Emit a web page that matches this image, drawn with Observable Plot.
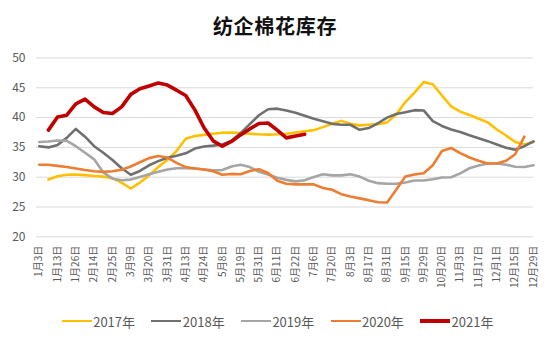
<!DOCTYPE html>
<html>
<head>
<meta charset="utf-8">
<script src="https://cdn.jsdelivr.net/npm/d3@7"></script>
<script src="https://cdn.jsdelivr.net/npm/@observablehq/plot@0.6"></script>
<style>
  html, body { margin: 0; padding: 0; background: #fff; }
  #wrap { position: relative; width: 550px; height: 343px; overflow: hidden; font-family: 'Noto Sans CJK SC', 'Noto Sans', sans-serif; }
  #title { position: absolute; left: 0; width: 550px; top: 15px; line-height: 21px; text-align: center; font-size: 20px; font-weight: bold; color: #111; letter-spacing: 0.7px; }
  #chart { position: absolute; left: 0; top: 45px; }
  #legend { position: absolute; left: 0; top: 311px; width: 550px; height: 20px; }
  .item { position: absolute; top: 0; height: 20px; display: flex; align-items: center; font-size: 13px; color: #595959; white-space: nowrap; }
  .swatch { width: 30px; margin-right: 1.5px; }
</style>
</head>
<body>
<div id="wrap">
  <div id="title">纺企棉花库存</div>
  <div id="chart"></div>
  <div id="legend"></div>
</div>
<script>
const title = "纺企棉花库存";
const labels = ["1月3日","1月13日","1月26日","2月14日","2月25日","3月9日","3月20日","3月31日","4月13日","4月24日","5月8日","5月19日","5月31日","6月11日","6月22日","7月6日","7月20日","8月3日","8月17日","8月31日","9月15日","9月29日","10月20日","11月3日","11月17日","12月1日","12月15日","12月29日"];
const yTicks = [20, 25, 30, 35, 40, 45, 50];
const seriesNames = ["2017年", "2018年", "2019年", "2020年", "2021年"];
const seriesColors = ["#FFC000", "#707070", "#A5A5A5", "#ED7D31", "#C00000"];
const seriesWidths = [2.6, 2.6, 2.6, 2.6, 3.6];

// values sampled twice per labelled date (index i sits at label position i/2)
const v2017 = [null, 29.6, 30.15, 30.4, 30.45, 30.35, 30.2, 30.1, 29.85, 29.1, 28.1, 29.1, 30.3, 31.7, 32.9, 34.4, 36.45, 36.9, 37.1, 37.3, 37.45, 37.5, 37.4, 37.3, 37.2, 37.15, 37.2, 37.3, 37.5, 37.7, 37.9, 38.4, 38.95, 39.45, 38.95, 38.7, 38.8, 38.9, 39.2, 40.5, 42.6, 44.2, 45.95, 45.6, 43.7, 41.9, 41.0, 40.45, 39.8, 39.2, 38.0, 37.0, 35.9, 35.5, 35.9];
const v2018 = [35.2, 35.0, 35.4, 36.6, 38.1, 36.8, 35.2, 34.1, 32.9, 31.5, 30.4, 31.05, 32.0, 32.7, 33.25, 33.6, 34.0, 34.8, 35.15, 35.3, 35.5, 36.1, 37.4, 38.9, 40.4, 41.4, 41.5, 41.2, 40.8, 40.3, 39.8, 39.4, 38.95, 38.8, 38.8, 37.95, 38.25, 39.05, 40.0, 40.6, 40.9, 41.25, 41.2, 39.4, 38.6, 38.0, 37.6, 37.05, 36.55, 36.05, 35.5, 34.95, 34.6, 35.2, 36.0];
const v2019 = [35.9, 36.0, 36.15, 36.1, 35.2, 34.1, 33.0, 30.8, 29.75, 29.5, 29.6, 30.05, 30.5, 30.9, 31.3, 31.5, 31.5, 31.45, 31.3, 31.15, 31.2, 31.8, 32.1, 31.7, 30.9, 30.45, 29.9, 29.55, 29.3, 29.5, 30.05, 30.5, 30.3, 30.3, 30.5, 30.1, 29.4, 29.0, 28.9, 28.9, 29.1, 29.45, 29.45, 29.65, 29.95, 30.0, 30.65, 31.5, 31.95, 32.3, 32.3, 32.1, 31.75, 31.7, 32.0];
const v2020 = [32.1, 32.1, 31.9, 31.7, 31.45, 31.2, 31.0, 30.9, 31.0, 31.25, 31.8, 32.5, 33.2, 33.55, 33.3, 32.4, 31.7, 31.45, 31.3, 31.0, 30.4, 30.55, 30.5, 31.05, 31.35, 30.7, 29.4, 28.9, 28.8, 28.8, 28.8, 28.2, 27.9, 27.15, 26.75, 26.45, 26.15, 25.8, 25.75, 27.9, 30.1, 30.45, 30.65, 32.0, 34.4, 34.9, 34.05, 33.3, 32.75, 32.3, 32.3, 32.75, 33.85, 36.8, null];
const v2021 = [null, 37.9, 40.1, 40.4, 42.3, 43.1, 41.8, 40.85, 40.7, 41.8, 43.9, 44.85, 45.3, 45.8, 45.45, 44.6, 43.7, 41.3, 38.3, 36.1, 35.2, 36.0, 37.1, 38.1, 39.0, 39.1, 37.9, 36.6, 36.9, 37.2];
const seriesValues = [v2017, v2018, v2019, v2020, v2021];

const data = [];
seriesValues.forEach((vals, s) => vals.forEach((v, i) => {
  if (v != null) data.push({series: seriesNames[s], pos: i / 2, value: v});
}));

const lineMarks = seriesNames.map((name, s) =>
  Plot.line(data.filter(d => d.series === name), {
    x: "pos", y: "value", stroke: seriesColors[s], strokeWidth: seriesWidths[s],
    strokeLinejoin: "round", strokeLinecap: "round"
  })
);

const chart = Plot.plot({
  width: 550,
  height: 260,
  marginTop: 12.5,
  marginBottom: 68.7,
  marginLeft: 36,
  marginRight: 17,
  style: {fontFamily: "'Noto Sans CJK SC', 'Noto Sans', sans-serif", color: "#595959", background: "transparent"},
  x: {domain: [-0.15, 27]},
  y: {domain: [20, 50]},
  marks: [
    Plot.ruleY(yTicks, {stroke: "#D9D9D9", strokeWidth: 1}),
    Plot.axisY({ticks: yTicks, tickSize: 0, tickPadding: 11, fontSize: 12, label: null}),
    Plot.axisX({ticks: d3.range(labels.length), tickFormat: i => labels[i], tickRotate: -90, tickSize: 0, tickPadding: 9, fontSize: 10, label: null}),
    ...lineMarks
  ]
});
document.getElementById("chart").appendChild(chart);

const legend = document.getElementById("legend");
seriesNames.forEach((name, s) => {
  const item = document.createElement("div");
  item.className = "item";
  item.style.left = (61.7 + s * 89.6) + "px";
  const sw = document.createElement("div");
  sw.className = "swatch";
  sw.style.height = seriesWidths[s] + "px";
  sw.style.background = seriesColors[s];
  const tx = document.createElement("span");
  tx.textContent = name;
  item.appendChild(sw);
  item.appendChild(tx);
  legend.appendChild(item);
});
</script>
</body>
</html>
